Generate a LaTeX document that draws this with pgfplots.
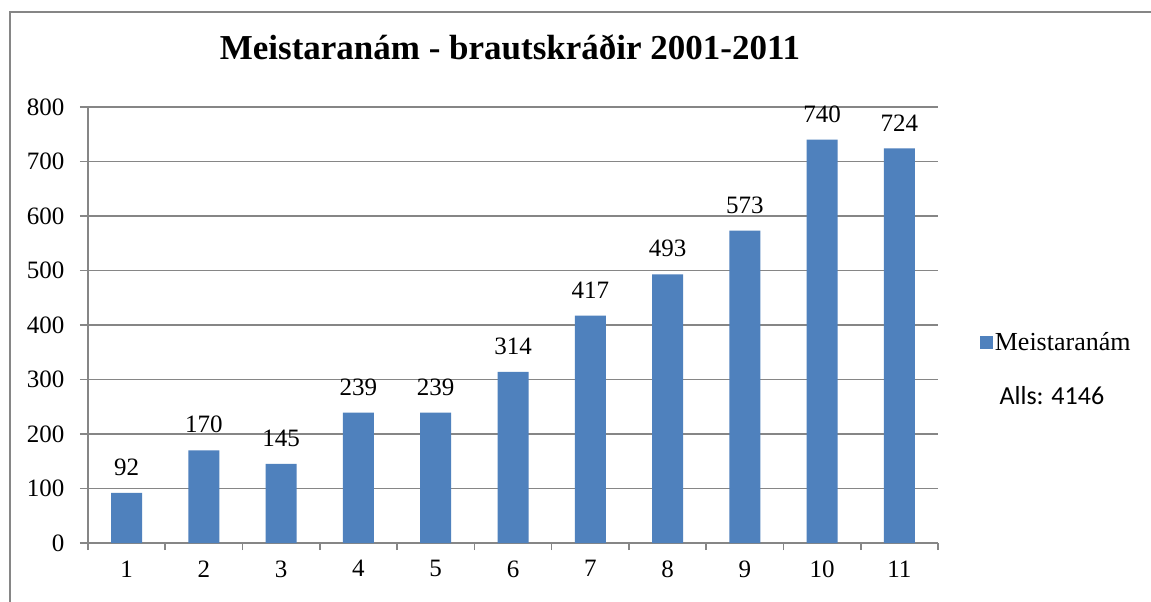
\documentclass[border=0pt]{standalone}
\usepackage{fontspec}
\setmainfont{Liberation Serif}
\newfontfamily\calibri{Carlito}
\usepackage{pgfplots}
\pgfplotsset{compat=1.18}
\definecolor{barblue}{HTML}{4F81BD}
\definecolor{axgray}{HTML}{868686}
\begin{document}
\begin{tikzpicture}
\useasboundingbox (0pt,0pt) rectangle (1151pt,-602pt);
\fill[white] (0pt,0pt) rectangle (1151pt,-602pt);
\draw[axgray, line width=1.6pt] (10pt,-602pt) -- (10pt,-12pt) -- (1151pt,-12pt);
\node[font=\fontsize{35}{40}\selectfont\bfseries] at (510pt,-47pt) {Meistaranám - brautskráðir 2001-2011};
\begin{axis}[
  at={(88pt,-543pt)}, anchor=south west,
  scale only axis, width=850pt, height=436pt,
  xmin=0.5, xmax=11.5, ymin=0, ymax=800,
  axis x line*=bottom, axis y line*=left,
  axis line style={draw=axgray, line width=1.6pt, -},
  ytick={0,100,...,800},
  xtick={1,...,11},
  minor xtick={0.5,1.5,...,11.5},
  major x tick style={draw=none},
  minor x tick style={draw=axgray, line width=1.6pt},
  major y tick style={draw=axgray, line width=1.6pt},
  tick align=outside,
  major tick length=8pt, minor tick length=7pt,
  ymajorgrids, grid style={draw=axgray, line width=1.4pt},
  ticklabel style={font=\fontsize{25}{28}\selectfont},
  /pgf/number format/assume math mode=true,
  yticklabel style={xshift=-12pt},
  xticklabel style={yshift=-6pt},
  ybar, bar width=31pt,
  nodes near coords,
  every node near coord/.append style={font=\fontsize{25}{28}\selectfont, anchor=south, inner sep=0pt, yshift=17pt},
  legend style={at={(1.049,0.461)}, anchor=west, draw=none, fill=none, inner sep=0pt,
    font=\fontsize{26}{30}\selectfont},
  legend image code/.code={\fill[barblue] (0pt,-6.5pt) rectangle (13pt,6.5pt);},
]
\addplot[fill=barblue, draw=none] coordinates {
(1,92) (2,170) (3,145) (4,239) (5,239) (6,314) (7,417) (8,493) (9,573) (10,740) (11,724)};
\addlegendentry{Meistaranám}
\end{axis}
\node[font=\calibri\fontsize{26}{30}\selectfont, anchor=west] at (996pt,-396pt) {Alls: 4146};
\end{tikzpicture}
\end{document}
